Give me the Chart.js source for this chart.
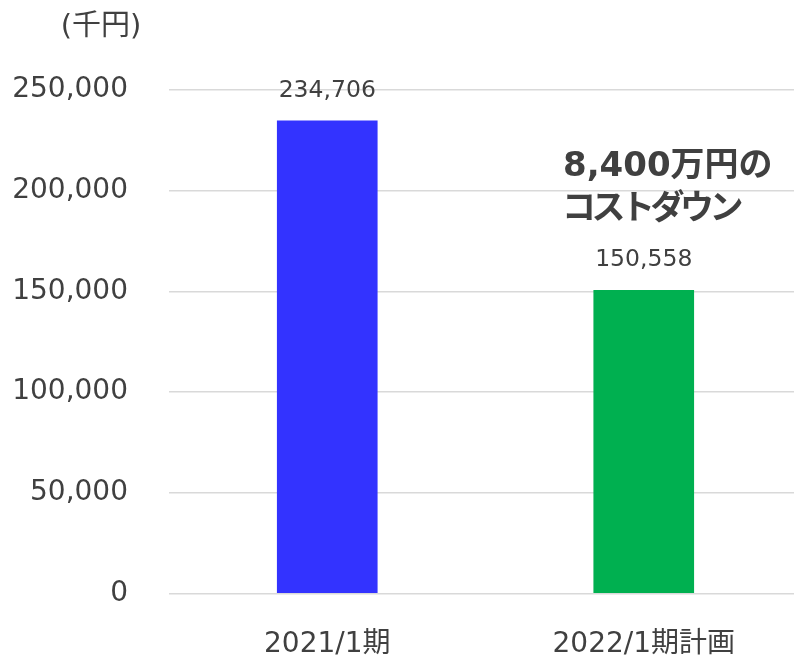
<!DOCTYPE html>
<html>
<head>
<meta charset="utf-8">
<script src="https://cdn.jsdelivr.net/npm/chart.js@4"></script>
<style>
    html, body { margin: 0; padding: 0; background: #fff; overflow: hidden; }
    #wrap { width: 802px; height: 658px; }
</style>
</head>
<body>
<div id="wrap"><canvas id="grafik" width="802" height="658"></canvas></div>
<script>
// Data
const labels = ['2021/1期', '2022/1期計画'];
const nilai = [234706, 150558];
const warnaBar = ['#3333FF', '#00B050'];
const yTicks = [0, 50000, 100000, 150000, 200000, 250000];

const satuan = '(千円)';
const catatan = ['8,400万円の', 'コストダウン'];

const fontFamily = '"DejaVu Sans", "Noto Sans CJK JP", sans-serif';
const textColor = '#404040';

// Label above each bar
const labelNilai = {
    id: 'labelNilai',
    afterDatasetsDraw(chart) {
        const ctx = chart.ctx;
        const meta = chart.getDatasetMeta(0);
        ctx.save();
        ctx.font = '23.5px ' + fontFamily;
        ctx.fillStyle = textColor;
        ctx.textAlign = 'center';
        ctx.textBaseline = 'middle';
        meta.data.forEach((bar, i) => {
            ctx.fillText(nilai[i].toLocaleString('en-US'), bar.x, bar.y - 30);
        });
        ctx.restore();
    }
};

// Unit text and the cost-down note
const teksTambahan = {
    id: 'teksTambahan',
    afterDraw(chart) {
        const ctx = chart.ctx;
        ctx.save();
        ctx.fillStyle = textColor;
        ctx.font = '29px ' + fontFamily;
        ctx.textAlign = 'center';
        ctx.textBaseline = 'middle';
        ctx.fillText(satuan, 101, 27);

        ctx.font = 'bold 34px ' + fontFamily;
        ctx.textAlign = 'left';
        ctx.textBaseline = 'alphabetic';
        ctx.fillText(catatan[0], 563, 176);
        // kana in the original are set tighter
        ctx.letterSpacing = '-4.5px';
        ctx.fillText(catatan[1], 562, 219);
        ctx.restore();
    }
};

const config = {
    type: 'bar',
    data: {
        labels: labels,
        datasets: [{
            data: nilai,
            backgroundColor: warnaBar,
            borderWidth: 0,
            barThickness: 100,
        }]
    },
    options: {
        responsive: false,
        animation: false,
        layout: {
            padding: { top: 90, right: 0, bottom: 0, left: 0 }
        },
        scales: {
            x: {
                grid: { display: false },
                border: { display: false },
                ticks: {
                    color: textColor,
                    font: { family: fontFamily, size: 28 },
                    padding: 26,
                },
                afterFit(scale) { scale.height = 64.5; }
            },
            y: {
                min: 0,
                max: 250000,
                afterBuildTicks(scale) {
                    scale.ticks = yTicks.map(v => ({ value: v }));
                },
                grid: {
                    color: '#d9d9d9',
                    lineWidth: 1.5,
                    drawTicks: false,
                },
                border: { display: false },
                ticks: {
                    color: textColor,
                    font: { family: fontFamily, size: 28 },
                    padding: 41,
                    callback: v => v.toLocaleString('en-US'),
                },
                afterFit(scale) { scale.width = 169; }
            }
        },
        plugins: {
            legend: { display: false },
            tooltip: { enabled: false }
        }
    },
    plugins: [labelNilai, teksTambahan]
};

new Chart(document.getElementById('grafik'), config);
</script>
</body>
</html>
